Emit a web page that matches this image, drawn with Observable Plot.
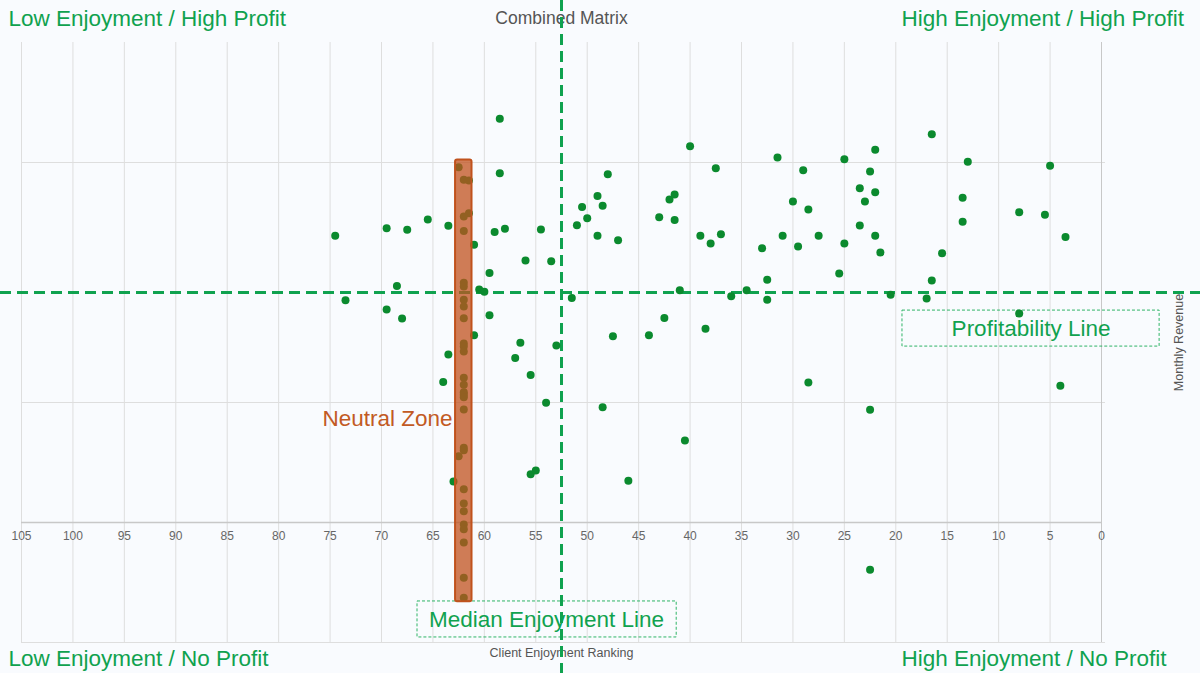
<!DOCTYPE html>
<html>
<head>
<meta charset="utf-8">
<script src="https://cdn.jsdelivr.net/npm/d3@7"></script>
<script src="https://cdn.jsdelivr.net/npm/@observablehq/plot@0.6"></script>
<style>
html, body { margin: 0; padding: 0; background: #f9fbfe; }
#chart { width: 1200px; height: 673px; }
</style>
</head>
<body>
<div id="chart"></div>
<script>
// ---- Data ----
const enjoyment = [
  74.5, 73.5, 69.5, 69.5, 68.5, 68, 67.5, 65.5, 63.5, 63.5, 64, 63, 62.5, 62.5,
  58.5, 58.5, 59, 58, 61, 59.5, 60.5, 60, 59.5, 61, 61.5, 61.5,
  56.5, 56, 54.5, 53.5, 53, 54, 57, 55.5, 55.5, 55,
  51.5, 51, 50.5, 50, 49, 49, 48.5, 48, 47.5, 47, 48.5, 46,
  44, 43, 42.5, 42, 41.5, 41.5, 41, 40.5, 40, 39, 38.5, 38, 37.5, 37, 36,
  34.5, 33, 32.5, 32.5, 31.5, 31, 30, 29.5, 29, 28.5, 28.5, 27.5,
  25.5, 25, 25, 23.5, 23.5, 23, 22.5, 22, 22, 22, 21.5, 22.5, 22.5, 20.5,
  17, 16.5, 16.5, 15.5, 13.5, 13.5, 13, 8, 8, 5.5, 5, 4, 3.5,
  62, 62, 62, 62, 62, 62, 62, 62, 62, 62, 62, 62, 62, 62,
  62, 62, 62, 62, 62, 62, 62, 62, 62, 62, 62, 62, 62
];
const revenue = [
  16.95, 14.26, 17.26, 13.88, 14.85, 13.5, 17.2, 17.63, 17.36, 12.0, 10.85, 6.71, 7.76, 19.8,
  21.82, 19.55, 17.1, 17.24, 16.57, 15.4, 14.71, 14.61, 13.64, 12.8, 19.25, 17.89,
  12.49, 15.92, 17.21, 15.89, 12.38, 9.99, 11.85, 11.15, 7.01, 7.17,
  14.35, 17.39, 18.15, 17.68, 18.6, 16.95, 18.2, 19.51, 12.76, 16.76, 9.8, 6.74,
  12.8, 17.72, 13.52, 18.46, 18.67, 17.6, 14.68, 8.42, 20.68, 16.95, 13.07, 16.63, 19.76, 17.01, 14.43,
  14.68, 16.43, 15.11, 14.28, 20.21, 16.95, 18.38, 16.5, 19.68, 18.04, 10.83, 16.95,
  15.38, 20.14, 16.63, 18.93, 17.38, 18.38, 19.63, 20.53, 18.76, 16.95, 16.25, 9.7, 3.03, 14.49,
  14.33, 21.18, 15.08, 16.22, 18.53, 17.53, 20.03, 17.93, 13.71, 17.82, 19.86, 10.7, 16.9,
  19.28, 17.75, 17.15, 14.99, 14.83, 14.28, 14.0, 13.51, 12.46, 12.33, 12.13, 11.03, 10.74, 10.43,
  10.32, 10.22, 9.71, 8.11, 8.01, 6.39, 5.79, 5.47, 4.92, 4.72, 4.17, 2.7, 1.86
];

const xTicks = [105, 100, 95, 90, 85, 80, 75, 70, 65, 60, 55, 50, 45, 40, 35, 30, 25, 20, 15, 10, 5, 0];
const yTicks = [0, 10, 20];
const axisCrossing = [5];
const medianEnjoyment = [52.5];
const profitabilityLine = [14.58];

const neutralZoneX = [61.2, 62.8];
const neutralZoneY = [1.7, 20.1];
const neutralLabel = ["Neutral Zone"];
const neutralLabelPos = [63.1, 9.33];

const annotationLabels = ["Median Enjoyment Line", "Profitability Line"];
const annotationX = [53.96, 6.85];
const annotationY = [0.96, 13.08];
const annotationX1 = [66.5, 19.35];
const annotationX2 = [41.3, -5.65];
const annotationY1 = [0.21, 12.33];
const annotationY2 = [1.71, 13.83];

const quadrantLabels = [
  "Low Enjoyment / High Profit",
  "High Enjoyment / High Profit",
  "Low Enjoyment / No Profit",
  "High Enjoyment / No Profit"
];
const chartTitle = ["Combined Matrix"];
const xLabel = ["Client Enjoyment Ranking"];
const yLabel = ["Monthly Revenue"];

// ---- Build tables ----
const points = enjoyment.map((x, i) => ({x, y: revenue[i]}));
const zone = [{x1: neutralZoneX[0], x2: neutralZoneX[1], y1: neutralZoneY[0], y2: neutralZoneY[1]}];
const annotations = annotationLabels.map((label, i) => ({
  label, x: annotationX[i], y: annotationY[i],
  x1: annotationX1[i], x2: annotationX2[i], y1: annotationY1[i], y2: annotationY2[i]
}));

const green = "#10a24f";
const dotGreen = "#0b8a2e";
const orange = "#c0521d";
const font = "'Liberation Sans', Arial, Helvetica, sans-serif";
const big = 22.5;

const chart = Plot.plot({
  width: 1200,
  height: 673,
  marginLeft: 21,
  marginRight: 99,
  marginTop: 42,
  marginBottom: 31,
  style: {background: "#f9fbfe", fontFamily: font, overflow: "visible"},
  x: {domain: [105, 0], axis: null},
  y: {domain: [0, 25], axis: null},
  marks: [
    // grid
    Plot.ruleX(xTicks, {stroke: "#dedede", strokeWidth: 1}),
    Plot.ruleY(yTicks, {stroke: "#dedede", strokeWidth: 1, insetRight: -4}),
    Plot.ruleX([0], {stroke: "#c8c8c8", strokeWidth: 1}),
    // x axis drawn at crossing
    Plot.ruleY(axisCrossing, {stroke: "#c8c8c8", strokeWidth: 1.5}),
    Plot.text(xTicks, {x: d => d, y: () => axisCrossing[0], dy: 14, text: d => String(d), fill: "#666", fontSize: 12}),
    // axis titles
    Plot.text(chartTitle, {frameAnchor: "top", dy: -24, lineAnchor: "middle", text: d => d, fill: "#555", fontSize: 17.5}),
    Plot.text(xLabel, {frameAnchor: "bottom", dy: 10, lineAnchor: "middle", text: d => d, fill: "#555", fontSize: 12.5}),
    Plot.text(yLabel, {frameAnchor: "right", dx: 77, rotate: -90, textAnchor: "middle", lineAnchor: "middle", text: d => d, fill: "#555", fontSize: 12.5}),
    // annotation boxes
    Plot.rect(annotations, {x1: "x1", x2: "x2", y1: "y1", y2: "y2", fill: "none", stroke: "#2fb466", strokeWidth: 1, strokeDasharray: "3,2"}),
    Plot.text(annotations, {x: "x", y: "y", text: "label", fill: green, fontSize: big}),
    // reference lines
    Plot.ruleX(medianEnjoyment, {stroke: green, strokeWidth: 3, strokeDasharray: "11,6", insetTop: -42, insetBottom: -31}),
    Plot.ruleY(profitabilityLine, {stroke: green, strokeWidth: 3, strokeDasharray: "11,6", insetLeft: -21, insetRight: -99}),
    // data
    Plot.dot(points, {x: "x", y: "y", r: 4, fill: dotGreen, stroke: "none"}),
    // neutral zone
    Plot.rect(zone, {x1: "x1", x2: "x2", y1: "y1", y2: "y2", fill: orange, fillOpacity: 0.75, stroke: orange, strokeWidth: 2, rx: 2}),
    Plot.text(neutralLabel, {x: () => neutralLabelPos[0], y: () => neutralLabelPos[1], text: d => d, textAnchor: "end", fill: "#c25a24", fontSize: big}),
    // quadrant labels
    Plot.text([quadrantLabels[0]], {frameAnchor: "top-left", dx: -13, dy: -24, textAnchor: "start", lineAnchor: "middle", text: d => d, fill: green, fontSize: big}),
    Plot.text([quadrantLabels[1]], {frameAnchor: "top-right", dx: -200, dy: -24, textAnchor: "start", lineAnchor: "middle", text: d => d, fill: green, fontSize: big}),
    Plot.text([quadrantLabels[2]], {frameAnchor: "bottom-left", dx: -13, dy: 16, textAnchor: "start", lineAnchor: "middle", text: d => d, fill: green, fontSize: big}),
    Plot.text([quadrantLabels[3]], {frameAnchor: "bottom-right", dx: -200, dy: 16, textAnchor: "start", lineAnchor: "middle", text: d => d, fill: green, fontSize: big})
  ]
});

document.getElementById("chart").appendChild(chart);
</script>
</body>
</html>
